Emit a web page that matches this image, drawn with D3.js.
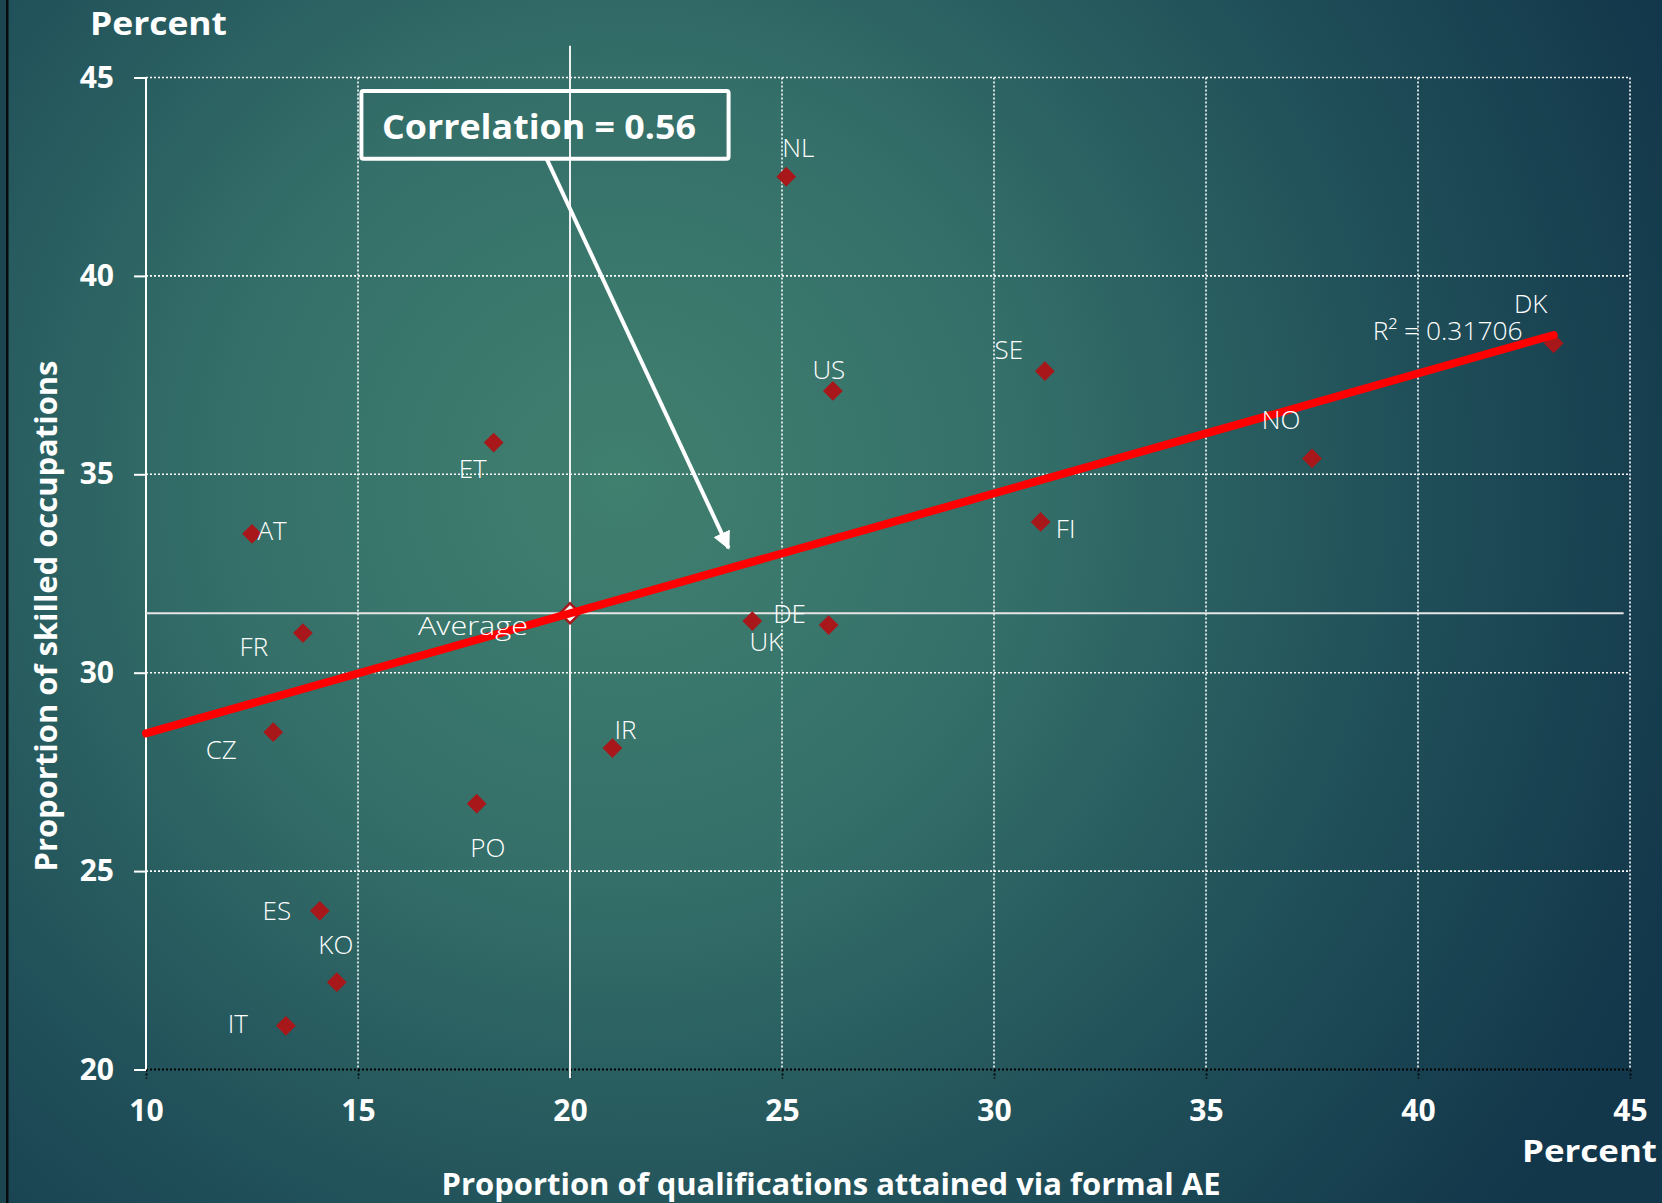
<!DOCTYPE html>
<html>
<head>
<meta charset="utf-8">
<script src="https://cdn.jsdelivr.net/npm/d3@7"></script>
<style>
  html, body { margin: 0; padding: 0; background: #1d4a53; }
  svg { display: block; }
</style>
</head>
<body>
<script>
// Country codes and their values (x: % of qualifications via formal AE, y: % skilled occupations)
const countries = ["NL", "US", "SE", "DK", "NO", "FI", "ET", "AT", "FR", "UK", "DE", "CZ", "IR", "PO", "ES", "KO", "IT"];
const formalAE  = [25.1, 26.2, 31.2, 43.2, 37.5, 31.1, 18.2, 12.5, 13.7, 24.3, 26.1, 13.0, 21.0, 17.8, 14.1, 14.5, 13.3];
const skilled   = [42.5, 37.1, 37.6, 38.3, 35.4, 33.8, 35.8, 33.5, 31.0, 31.3, 31.2, 28.5, 28.1, 26.7, 24.0, 22.2, 21.1];

// Cross-country average
const averageX = 20.0;
const averageY = 31.5;

// Fitted linear trend (endpoints) and its fit statistic
const trendX = [10, 43.2];
const trendY = [28.47, 38.51];
const rSquaredText = "R² = 0.31706";
const correlationText = "Correlation = 0.56";

// Axis ticks
const xTicks = [10, 15, 20, 25, 30, 35, 40, 45];
const yTicks = [20, 25, 30, 35, 40, 45];

const W = 1662, H = 1203;
const margin = { left: 146, top: 77.5, right: W - 1630, bottom: H - 1069.5 };

const x = d3.scaleLinear().domain([10, 45]).range([margin.left, W - margin.right]);
const y = d3.scaleLinear().domain([20, 45]).range([H - margin.bottom, margin.top]);

// Label placement relative to each marker (pixels)
const labelOffset = {
  NL: [12, -30], US: [-4, -22], SE: [-36, -22], DK: [-23, -40], NO: [-31, -39],
  FI: [25, 6], ET: [-21, 25], AT: [20, -4], FR: [-49, 13], UK: [14, 20],
  DE: [-39, -12], CZ: [-52, 17], IR: [13, -19], PO: [11, 43], ES: [-43, -1],
  KO: [-1, -38], IT: [-48, -3]
};

const svg = d3.select("body").append("svg").attr("width", W).attr("height", H);

// Background: teal radial glow
const defs = svg.append("defs");
const grad = defs.append("radialGradient")
  .attr("id", "bg").attr("gradientUnits", "userSpaceOnUse")
  .attr("cx", 620).attr("cy", 480).attr("r", 1150)
  .attr("fx", 620).attr("fy", 480);
grad.append("stop").attr("offset", 0).attr("stop-color", "#40806f");
grad.append("stop").attr("offset", 0.35).attr("stop-color", "#346f69");
grad.append("stop").attr("offset", 0.7).attr("stop-color", "#1f4e58");
grad.append("stop").attr("offset", 1).attr("stop-color", "#12364a");

const arrowMarker = defs.append("marker")
  .attr("id", "arrowhead").attr("viewBox", "0 0 10 10")
  .attr("refX", 9).attr("refY", 5)
  .attr("markerWidth", 4.5).attr("markerHeight", 4.5)
  .attr("markerUnits", "strokeWidth")
  .attr("orient", "auto");
arrowMarker.append("path").attr("d", "M0,0 L10,5 L0,10 z").attr("fill", "#ffffff");

svg.append("rect").attr("width", W).attr("height", H).attr("fill", "url(#bg)");
// left frame edge
svg.append("rect").attr("x", 0).attr("y", 0).attr("width", 6).attr("height", H).attr("fill", "#1b4650");
svg.append("rect").attr("x", 6).attr("y", 0).attr("width", 2.5).attr("height", H).attr("fill", "#050a0c");

// Grid lines (dotted white)
const grid = svg.append("g");
grid.selectAll("line.h").data(yTicks.filter(t => t > 20)).join("line")
  .attr("x1", x(10)).attr("x2", x(45))
  .attr("y1", d => y(d)).attr("y2", d => y(d))
  .attr("stroke", "#ffffff").attr("stroke-width", 1.6).attr("stroke-dasharray", "2,2");
grid.selectAll("line.v").data(xTicks.filter(t => t > 10)).join("line")
  .attr("x1", d => x(d)).attr("x2", d => x(d))
  .attr("y1", y(45)).attr("y2", y(20))
  .attr("stroke", "#ffffff").attr("stroke-width", 1.6).attr("stroke-dasharray", "2,2");

// X axis: black dotted baseline with dotted ticks
const xAxis = svg.append("g").attr("transform", `translate(0,${y(20)})`)
  .call(d3.axisBottom(x).tickValues(xTicks).tickSize(0).tickPadding(30).tickFormat(d3.format("d")));
xAxis.select(".domain").remove();
xAxis.selectAll(".tick line").remove();
xAxis.append("line").attr("x1", x(10)).attr("x2", x(45)).attr("y1", 0).attr("y2", 0)
  .attr("stroke", "#000000").attr("stroke-width", 1.8).attr("stroke-dasharray", "2,2");
xAxis.selectAll(".tick").append("line").attr("y1", 0).attr("y2", 9)
  .attr("stroke", "#000000").attr("stroke-width", 1.8).attr("stroke-dasharray", "2,2");
xAxis.selectAll(".tick text")
  .attr("fill", "#ffffff").attr("font-family", "'Open Sans', sans-serif")
  .attr("font-weight", 700).attr("font-size", 30).attr("dy", "0.71em");

// Y axis: solid white line with short outward ticks
const yAxis = svg.append("g").attr("transform", `translate(${x(10)},0)`)
  .call(d3.axisLeft(y).tickValues(yTicks).tickSize(12).tickPadding(20).tickFormat(d3.format("d")));
yAxis.select(".domain").attr("stroke", "#ffffff").attr("stroke-width", 2).attr("d", `M0,${y(45)}V${y(20)}`);
yAxis.selectAll(".tick line").attr("stroke", "#ffffff").attr("stroke-width", 2);
yAxis.selectAll(".tick text")
  .attr("fill", "#ffffff").attr("font-family", "'Open Sans', sans-serif")
  .attr("font-weight", 700).attr("font-size", 30);

// Average cross-hair
svg.append("line")
  .attr("x1", x(10)).attr("x2", x(44.85))
  .attr("y1", y(averageY)).attr("y2", y(averageY))
  .attr("stroke", "#e6e6e6").attr("stroke-width", 2);
svg.append("line")
  .attr("x1", x(averageX)).attr("x2", x(averageX))
  .attr("y1", y(45.8)).attr("y2", y(19.78))
  .attr("stroke", "#f0f0f0").attr("stroke-width", 2);

// Country markers (diamonds)
const diamond = d3.symbol().type(d3.symbolSquare).size(195);
const points = countries.map((c, i) => ({ code: c, x: formalAE[i], y: skilled[i] }));

svg.append("g").selectAll("path").data(points).join("path")
  .attr("d", diamond)
  .attr("transform", d => `translate(${x(d.x)},${y(d.y)}) rotate(45)`)
  .attr("fill", "#a8181a");

// Average marker
svg.append("path").attr("d", d3.symbol().type(d3.symbolSquare).size(200))
  .attr("transform", `translate(${x(averageX)},${y(averageY)}) rotate(45)`)
  .attr("fill", "#ffffff").attr("stroke", "#a8181a").attr("stroke-width", 2.5);

// Trend line
svg.append("line")
  .attr("x1", x(trendX[0])).attr("y1", y(trendY[0]))
  .attr("x2", x(trendX[1])).attr("y2", y(trendY[1]))
  .attr("stroke", "#ff0000").attr("stroke-width", 8).attr("stroke-linecap", "round");

// Country labels
const labelFont = "'Open Sans', sans-serif";
svg.append("g").selectAll("text").data(points).join("text")
  .attr("x", d => x(d.x) + labelOffset[d.code][0])
  .attr("y", d => y(d.y) + labelOffset[d.code][1])
  .attr("text-anchor", "middle").attr("dominant-baseline", "central")
  .attr("fill", "#ffffff").attr("font-family", labelFont).attr("font-weight", 300)
  .attr("font-size", 26)
  .text(d => d.code);

svg.append("text")
  .attr("x", x(averageX) - 97).attr("y", y(averageY) + 12)
  .attr("text-anchor", "middle").attr("dominant-baseline", "central")
  .attr("fill", "#ffffff").attr("font-family", labelFont).attr("font-weight", 300).attr("font-size", 26)
  .attr("textLength", 110).attr("lengthAdjust", "spacingAndGlyphs")
  .text("Average");

// Trend line fit label
svg.append("text")
  .attr("x", x(trendX[1]) - 106).attr("y", y(trendY[1]) - 5)
  .attr("text-anchor", "middle").attr("dominant-baseline", "central")
  .attr("fill", "#ffffff").attr("font-family", labelFont).attr("font-weight", 300).attr("font-size", 26)
  .attr("textLength", 150).attr("lengthAdjust", "spacingAndGlyphs")
  .text(rSquaredText);

// Correlation call-out box with arrow
const box = { x0: 15.08, x1: 23.74, y0: 44.66, y1: 42.95 };
svg.append("rect")
  .attr("x", x(box.x0)).attr("y", y(box.y0))
  .attr("width", x(box.x1) - x(box.x0)).attr("height", y(box.y1) - y(box.y0))
  .attr("fill", "none").attr("stroke", "#ffffff").attr("stroke-width", 4).attr("rx", 2);
svg.append("text")
  .attr("x", (x(box.x0) + x(box.x1)) / 2 - 6).attr("y", (y(box.y0) + y(box.y1)) / 2 + 1)
  .attr("text-anchor", "middle").attr("dominant-baseline", "central")
  .attr("fill", "#ffffff").attr("font-family", labelFont).attr("font-weight", 700)
  .attr("font-size", 34).attr("textLength", 314).attr("lengthAdjust", "spacingAndGlyphs")
  .text(correlationText);
svg.append("line")
  .attr("x1", x(19.45)).attr("y1", y(box.y1))
  .attr("x2", x(23.74)).attr("y2", y(33.14))
  .attr("stroke", "#ffffff").attr("stroke-width", 4)
  .attr("marker-end", "url(#arrowhead)");

// Axis titles
const titleFont = "'Open Sans', sans-serif";
svg.append("text")
  .attr("x", 90).attr("y", 22).attr("dominant-baseline", "central")
  .attr("fill", "#ffffff").attr("font-family", titleFont).attr("font-weight", 700)
  .attr("font-size", 33).attr("textLength", 137).attr("lengthAdjust", "spacingAndGlyphs")
  .text("Percent");
svg.append("text")
  .attr("x", 1657).attr("y", 1150).attr("text-anchor", "end").attr("dominant-baseline", "central")
  .attr("fill", "#ffffff").attr("font-family", titleFont).attr("font-weight", 700)
  .attr("font-size", 31).attr("textLength", 135).attr("lengthAdjust", "spacingAndGlyphs")
  .text("Percent");
svg.append("text")
  .attr("x", 831).attr("y", 1183).attr("text-anchor", "middle").attr("dominant-baseline", "central")
  .attr("fill", "#ffffff").attr("font-family", titleFont).attr("font-weight", 700)
  .attr("font-size", 30).attr("textLength", 779).attr("lengthAdjust", "spacingAndGlyphs")
  .text("Proportion of qualifications attained via formal AE");
svg.append("text")
  .attr("transform", "translate(45,616) rotate(-90)")
  .attr("text-anchor", "middle").attr("dominant-baseline", "central")
  .attr("fill", "#ffffff").attr("font-family", titleFont).attr("font-weight", 700)
  .attr("font-size", 30).attr("textLength", 511).attr("lengthAdjust", "spacingAndGlyphs")
  .text("Proportion of skilled occupations");
</script>
</body>
</html>
